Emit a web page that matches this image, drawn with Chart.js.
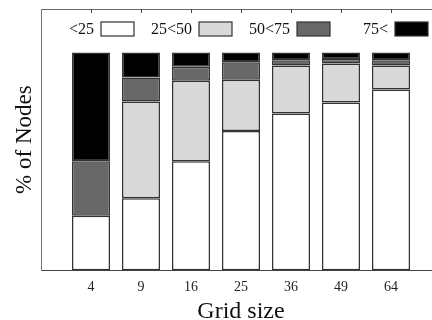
<!DOCTYPE html>
<html>
<head>
<meta charset="utf-8">
<script src="https://cdn.jsdelivr.net/npm/chart.js@4/dist/chart.umd.min.js"></script>
<style>
  body { margin: 0; background: #fff; }
  #clip { width: 432px; height: 320px; overflow: hidden; }
  #box { width: 450px; height: 320px; }
</style>
</head>
<body>
<div id="clip"><div id="box"><canvas id="nodesChart"></canvas></div></div>
<script>
// grid sizes on the x axis
const gridSizes = ['4', '9', '16', '25', '36', '49', '64'];
// share of nodes (%) per band
const below25 = [25, 33, 50, 64, 72, 77, 83];
const from25to50 = [0, 44.5, 37, 23.5, 22, 18, 11];
const from50to75 = [25, 11, 6.5, 8, 2.5, 2, 2.5];
const above75 = [50, 11.5, 6.5, 4.5, 3.5, 3, 3.5];

const serif = 'Liberation Serif';

// empty slot at each end so the bars sit one step in from the frame
const pad = arr => [null].concat(arr, [null]);

// legend drawn inside the frame: text first, then the swatch
const insideLegend = {
    id: 'insideLegend',
    afterDraw(chart) {
        const c = chart.ctx;
        const area = chart.chartArea;
        c.save();
        c.font = '16px "' + serif + '"';
        c.textAlign = 'right';
        c.textBaseline = 'middle';
        chart.data.datasets.forEach(function(ds, i) {
            const bx = area.left + 60 + 98 * i;
            const by = area.top + 13;
            c.fillStyle = ds.backgroundColor;
            c.fillRect(bx, by, 33, 14);
            c.strokeStyle = '#333';
            c.lineWidth = 1.2;
            c.strokeRect(bx, by, 33, 14);
            c.fillStyle = '#111';
            c.fillText(ds.label, bx - 7, by + 7.5);
        });
        // small inward ticks on the top edge
        const xs = chart.scales.x;
        c.strokeStyle = '#444';
        c.lineWidth = 1;
        for (let i = 1; i <= gridSizes.length; i++) {
            const px = Math.round(xs.getPixelForTick(i)) + 0.5;
            c.beginPath();
            c.moveTo(px, area.top);
            c.lineTo(px, area.top + 4);
            c.stroke();
        }
        c.restore();
    }
};

function band(label, values, color) {
    return {
        label: label,
        data: pad(values),
        backgroundColor: color,
        borderColor: '#333',
        borderWidth: 1.5,
        borderSkipped: false,
        categoryPercentage: 1,
        barPercentage: 0.76
    };
}

document.addEventListener("DOMContentLoaded", function() {
    const ctx = document.getElementById('nodesChart').getContext('2d');

    new Chart(ctx, {
        type: 'bar',
        data: {
            labels: pad(gridSizes).map(v => v === null ? '' : v),
            datasets: [
                band('<25', below25, '#ffffff'),
                band('25<50', from25to50, '#d9d9d9'),
                band('50<75', from50to75, '#686868'),
                band('75<', above75, '#000000')
            ]
        },
        options: {
            responsive: true,
            maintainAspectRatio: false,
            animation: false,
            layout: {
                padding: { left: 0, top: 9, right: 8, bottom: -4 }
            },
            plugins: {
                legend: { display: false },
                tooltip: { enabled: false }
            },
            scales: {
                x: {
                    stacked: true,
                    offset: false,
                    grid: { display: false, drawTicks: false },
                    border: { display: true, color: '#444', width: 1 },
                    ticks: {
                        color: '#222',
                        padding: 9,
                        maxRotation: 0,
                        autoSkip: false,
                        font: { family: serif, size: 14 }
                    },
                    title: {
                        display: true,
                        text: 'Grid size',
                        color: '#111',
                        padding: { top: -5, bottom: 0 },
                        font: { family: serif, size: 24, lineHeight: 1 }
                    }
                },
                xTop: {
                    position: 'top',
                    grid: { display: false, drawTicks: false },
                    ticks: { display: false },
                    border: { display: true, color: '#666', width: 1 }
                },
                y: {
                    stacked: true,
                    min: 0,
                    max: 120,
                    grid: { display: false, drawTicks: false },
                    ticks: { display: false },
                    border: { display: true, color: '#777', width: 1 },
                    title: {
                        display: true,
                        text: '% of Nodes',
                        color: '#111',
                        padding: { top: 13, bottom: 5 },
                        font: { family: serif, size: 23, lineHeight: 1 }
                    }
                }
            }
        },
        plugins: [insideLegend]
    });
});
</script>
</body>
</html>
